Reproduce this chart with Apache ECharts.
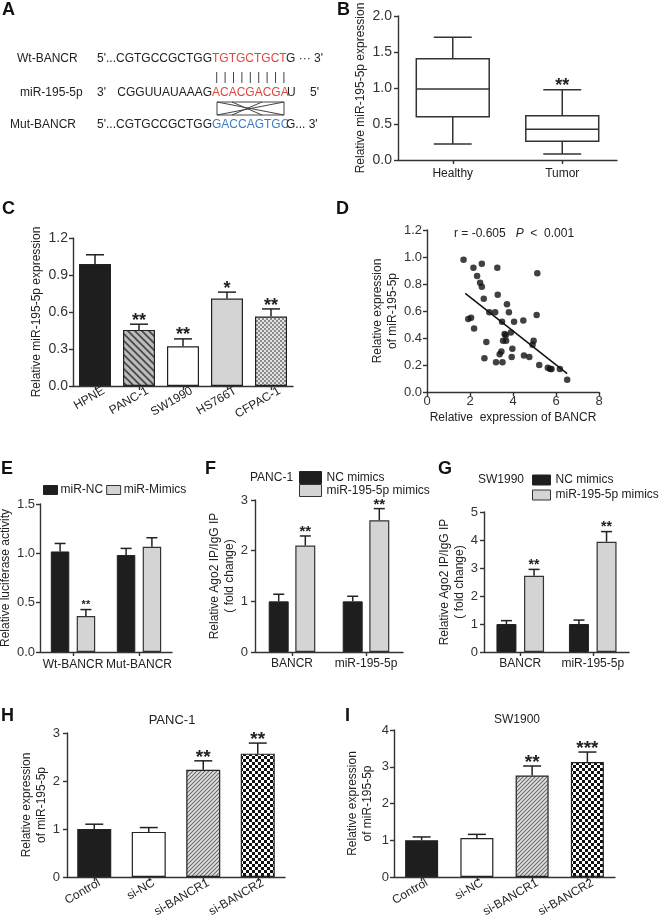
<!DOCTYPE html>
<html><head><meta charset="utf-8">
<script src="https://cdn.jsdelivr.net/npm/echarts@6.0.0/dist/echarts.min.js"></script>
<style>html,body{margin:0;padding:0;background:#fff}#c{width:662px;height:918px}</style>
</head><body><div id="c"></div>
<script>
// ---------- DATA ----------
// Panel B (boxplot: min, Q1, median, Q3, max)
const bCats = ['Healthy', 'Tumor'];
const bBox = [[0.222, 0.602, 0.986, 1.407, 1.704], [0.083, 0.259, 0.426, 0.616, 0.977]];
const bStars = ['', '**'];
// Panel C
const cCats = ['HPNE', 'PANC-1', 'SW1990', 'HS766T', 'CFPAC-1'];
const cMean = [0.99, 0.455, 0.322, 0.709, 0.563];
const cErr = [1.064, 0.501, 0.382, 0.761, 0.625];
const cStars = ['', '**', '**', '*', '**'];
// Panel D
const dX = [1.70,2.16,2.55,3.27,2.33,2.47,2.55,5.13,3.29,2.64,3.72,2.90,3.17,3.81,5.10,1.92,2.05,3.49,4.05,4.48,2.19,3.61,3.66,3.90,4.96,4.91,2.76,3.54,3.68,3.97,3.46,3.38,4.51,4.76,3.94,2.67,3.21,3.51,5.22,5.62,5.73,5.79,6.18,6.52];
const dY = [0.98,0.92,0.95,0.92,0.86,0.81,0.78,0.88,0.72,0.69,0.65,0.59,0.59,0.59,0.57,0.54,0.55,0.52,0.52,0.53,0.47,0.43,0.42,0.44,0.38,0.35,0.37,0.38,0.38,0.32,0.30,0.28,0.27,0.26,0.26,0.25,0.22,0.22,0.20,0.18,0.17,0.17,0.17,0.09];
const dFitX = [1.78, 6.52];
const dFitY = [0.73, 0.136];
// Panel E
const eCats = ['Wt-BANCR', 'Mut-BANCR'];
const eNC = [1.019, 0.983], eNCErr = [1.10, 1.05];
const eMim = [0.365, 1.067], eMimErr = [0.43, 1.158];
const eStars = ['**', ''];
// Panel F
const fgCats = ['BANCR', 'miR-195-5p'];
const fNC = [1.0, 1.0], fNCErr = [1.14, 1.10];
const fMim = [2.10, 2.60], fMimErr = [2.29, 2.83];
const fStars = ['**', '**'];
// Panel G
const gNC = [1.0, 1.0], gNCErr = [1.12, 1.14];
const gMim = [2.72, 3.94], gMimErr = [2.95, 4.30];
const gStars = ['**', '**'];
// Panel H
const hiCats = ['Control', 'si-NC', 'si-BANCR1', 'si-BANCR2'];
const hVal = [1.0, 0.94, 2.235, 2.57], hErr = [1.10, 1.03, 2.42, 2.79];
const hStars = ['', '', '**', '**'];
// Panel I
const iVal = [1.0, 1.06, 2.76, 3.13], iErr = [1.09, 1.16, 3.02, 3.40];
const iStars = ['', '', '**', '***'];

// ---------- STYLE ----------
const FONT = '"Liberation Sans", Arial, Helvetica, sans-serif';
const AX = '#333', TXT = '#222', BLACK = '#1e1e1e', LGRAY = '#d4d4d4';

function hatch(dir, bg, fg, s, lw) {
  const c = document.createElement('canvas'); c.width = s; c.height = s;
  const x = c.getContext('2d'); x.fillStyle = bg; x.fillRect(0, 0, s, s);
  x.strokeStyle = fg; x.lineWidth = lw; x.beginPath();
  if (dir === '/') {
    x.moveTo(0, s); x.lineTo(s, 0); x.moveTo(-s/2, s/2); x.lineTo(s/2, -s/2); x.moveTo(s/2, s*1.5); x.lineTo(s*1.5, s/2);
  } else {
    x.moveTo(0, 0); x.lineTo(s, s); x.moveTo(-s/2, s/2); x.lineTo(s/2, s*1.5); x.moveTo(s/2, -s/2); x.lineTo(s*1.5, s/2);
  }
  x.stroke(); return {image: c, repeat: 'repeat'};
}
function checker(a, b, q) {
  const c = document.createElement('canvas'); c.width = 2*q; c.height = 2*q;
  const x = c.getContext('2d'); x.fillStyle = b; x.fillRect(0, 0, 2*q, 2*q);
  x.fillStyle = a; x.fillRect(0, 0, q, q); x.fillRect(q, q, q, q);
  return {image: c, repeat: 'repeat'};
}
const cFill = [BLACK, hatch('\\', '#bdbdbd', '#4a4a4a', 7, 1.8), '#ffffff', LGRAY, checker('#8a8a8a', '#e4e4e4', 2)];
const hiFill = [BLACK, '#ffffff', hatch('/', '#e2e2e2', '#6a6a6a', 4, 1.1), checker('#111', '#fff', 3)];

function valAxis(gi, min, max, itv, dec, name, gap, margin, fs) {
  return {type: 'value', gridIndex: gi, min, max, interval: itv,
    axisLine: {show: true, lineStyle: {color: AX, width: 1.4}},
    axisTick: {show: true, length: 4, lineStyle: {color: AX, width: 1.4}},
    splitLine: {show: false},
    axisLabel: {show: true, color: '#333', fontSize: fs || 13, fontFamily: FONT, margin: margin || 6, formatter: v => v.toFixed(dec)},
    name, nameLocation: 'middle', nameRotate: 90, nameGap: gap,
    nameTextStyle: {color: TXT, fontSize: 12, fontFamily: FONT, lineHeight: 15}};
}
function catAxis(gi, data, rotate, margin, pad) {
  return {type: 'category', gridIndex: gi, data,
    axisLine: {show: true, lineStyle: {color: AX, width: 1.4}},
    axisTick: {show: true, alignWithLabel: true, length: 4, lineStyle: {color: AX, width: 1.4}},
    axisLabel: {show: true, interval: 0, rotate: rotate || 0, color: TXT, fontSize: 12, fontFamily: FONT, margin: margin || 6, padding: pad || 0},
    splitLine: {show: false}};
}
function errBars(ai, means, errs, offset, capW, stars, fs) {
  return {type: 'custom', xAxisIndex: ai, yAxisIndex: ai, z: 5, silent: true,
    data: means.map((m, i) => [i, m, errs[i]]),
    renderItem: (params, api) => {
      const i = api.value(0);
      const p = api.coord([i, api.value(1)]), q = api.coord([i, api.value(2)]);
      const x = p[0] + offset;
      const ch = [
        {type: 'line', shape: {x1: x, y1: p[1], x2: x, y2: q[1]}, style: {stroke: '#222', lineWidth: 1.5}},
        {type: 'line', shape: {x1: x - capW/2, y1: q[1], x2: x + capW/2, y2: q[1]}, style: {stroke: '#222', lineWidth: 1.5}}
      ];
      const s = stars ? stars[params.dataIndex] : '';
      if (s) ch.push({type: 'text', x: x, y: q[1] - 7.5 + 0.23*fs,
        style: {text: s, fill: '#222', fontSize: fs, fontWeight: 'bold', fontFamily: FONT, align: 'center', verticalAlign: 'middle'}});
      return {type: 'group', children: ch};
    }};
}
const barBorder = {borderColor: '#222', borderWidth: 1.2};

function T(text, x, y, o) {
  return Object.assign({type: 'text', x, y, silent: true,
    style: Object.assign({text, fill: TXT, fontSize: 12, fontFamily: FONT, align: 'left', verticalAlign: 'middle'}, (o || {}))});
}
function L(x1, y1, x2, y2) { return {type: 'line', silent: true, shape: {x1, y1, x2, y2}, style: {stroke: '#444', lineWidth: 1}}; }
const RED = '#e2463c', BLUE = '#3b7ec6';
const letter = (t, x, y) => T(t, x, y, {fontSize: 18, fontWeight: 'bold', fill: '#111'});

const graphic = [
  letter('A', 2, 10), letter('B', 337, 10), letter('C', 2, 209), letter('D', 336, 209),
  letter('E', 1, 469), letter('F', 205, 469), letter('G', 438, 469), letter('H', 1, 716), letter('I', 345, 716),
  // Panel A
  T('Wt-BANCR', 17, 59), T("5'...CGTGCCGCTGG", 212, 59, {align: 'right'}), T('TGTGCTGCT', 212, 59, {fill: RED}), T("G \u00b7\u00b7\u00b7 3'", 286, 59),
  T('miR-195-5p', 20, 93), T("3'", 97, 93), T('CGGUUAUAAAG', 212, 93, {align: 'right'}), T('ACACGACGA', 212, 93, {fill: RED}), T('U', 287, 93), T("5'", 310, 93),
  T('Mut-BANCR', 10, 125), T("5'...CGTGCCGCTGG", 212, 125, {align: 'right'}), T('GACCAGTGC', 212, 125, {fill: BLUE}), T("G... 3'", 286, 125),
  // Panel D annotation
  T('r = -0.605   {i|P}  <  0.001', 454, 234, {rich: {i: {fontStyle: 'italic', fontSize: 12, fontFamily: FONT, fill: TXT}}}),
  // Titles
  T('PANC-1', 250, 478), T('SW1990', 478, 480), T('PANC-1', 172, 720, {align: 'center', fontSize: 13}), T('SW1900', 517, 720, {align: 'center'})
];
for (let k = 0; k < 9; k++) { const x = 216.7 + k * 8.4; graphic.push(L(x, 72, x, 83)); }
graphic.push(L(217, 102, 284, 102), L(217, 115, 284, 115), L(217, 102, 217, 115), L(284, 102, 284, 115),
  L(217, 102, 284, 115), L(217, 115, 284, 102), L(232, 102, 262, 115), L(232, 115, 262, 102));

const option = {
  animation: false,
  backgroundColor: '#fff',
  textStyle: {fontFamily: FONT},
  graphic,
  grid: [
    {left: 398, top: 16, width: 219, height: 144},
    {left: 73, top: 238, width: 220, height: 148},
    {left: 427, top: 230, width: 172, height: 162},
    {left: 40, top: 504, width: 132, height: 148},
    {left: 255, top: 500, width: 148, height: 152},
    {left: 484, top: 512, width: 145, height: 140},
    {left: 67, top: 733, width: 218, height: 144},
    {left: 394, top: 730, width: 221, height: 147}
  ].map(g => Object.assign(g, {containLabel: false, outerBoundsMode: 'none'})),
  legend: [
    {left: 43, top: 484, orient: 'horizontal', padding: 0, itemWidth: 14, itemHeight: 9, itemGap: 3, icon: 'rect',
      textStyle: {fontSize: 12, fontFamily: FONT, color: TXT, padding: [0, 0, 0, -2]},
      data: [{name: 'miR-NC', itemStyle: {color: BLACK, borderColor: '#222', borderWidth: 1}},
             {name: 'miR-Mimics', itemStyle: {color: LGRAY, borderColor: '#333', borderWidth: 1}}]},
    {left: 299, top: 471, orient: 'vertical', padding: 0, itemWidth: 22, itemHeight: 12, itemGap: 0, icon: 'rect',
      textStyle: {fontSize: 12, fontFamily: FONT, color: TXT, lineHeight: 13},
      data: [{name: 'NC mimics', itemStyle: {color: BLACK, borderColor: '#222', borderWidth: 1}},
             {name: 'miR-195-5p mimics', itemStyle: {color: LGRAY, borderColor: '#333', borderWidth: 1}}]},
    {left: 532, top: 473, orient: 'vertical', padding: 0, itemWidth: 18, itemHeight: 10, itemGap: 1, icon: 'rect',
      textStyle: {fontSize: 12, fontFamily: FONT, color: TXT, lineHeight: 14},
      data: [{name: 'NC mimics', itemStyle: {color: BLACK, borderColor: '#222', borderWidth: 1}},
             {name: 'miR-195-5p mimics', itemStyle: {color: LGRAY, borderColor: '#333', borderWidth: 1}}]}
  ],
  xAxis: [
    catAxis(0, bCats, 0, 8),
    catAxis(1, cCats, 30, 9, [0, -10, 0, 0]),
    {type: 'value', gridIndex: 2, min: 0, max: 8, interval: 2,
      axisLine: {show: true, lineStyle: {color: AX, width: 1.4}},
      axisTick: {show: true, length: 4, lineStyle: {color: AX, width: 1.4}},
      splitLine: {show: false},
      axisLabel: {show: true, color: '#333', fontSize: 13, fontFamily: FONT, margin: 3},
      name: 'Relative  expression of BANCR', nameLocation: 'middle', nameGap: 20,
      nameTextStyle: {color: TXT, fontSize: 12, fontFamily: FONT}},
    catAxis(3, eCats, 0, 7),
    catAxis(4, fgCats, 0, 6),
    catAxis(5, fgCats, 0, 6),
    catAxis(6, hiCats, 30, 8, [0, -6, 0, 0]),
    catAxis(7, hiCats, 30, 8, [0, -6, 0, 0])
  ],
  yAxis: [
    valAxis(0, 0, 2, 0.5, 1, 'Relative miR-195-5p expression', 21, 6, 14),
    valAxis(1, 0, 1.2, 0.3, 1, 'Relative miR-195-5p expression', 25, 5, 14),
    valAxis(2, 0, 1.2, 0.2, 1, 'Relative expression\nof miR-195-5p', 27, 5, 13),
    valAxis(3, 0, 1.5, 0.5, 1, 'Relative luciferase activity', 25, 5, 13),
    valAxis(4, 0, 3, 1, 0, 'Relative Ago2 IP/IgG IP\n( fold change)', 16, 7, 13),
    valAxis(5, 0, 5, 1, 0, 'Relative Ago2 IP/IgG IP\n( fold change)', 17, 6, 13),
    valAxis(6, 0, 3, 1, 0, 'Relative expression\nof miR-195-5p', 15, 7, 13),
    valAxis(7, 0, 4, 1, 0, 'Relative expression\nof miR-195-5p', 19, 5, 13)
  ],
  series: [
    // B boxplot
    {type: 'custom', xAxisIndex: 0, yAxisIndex: 0, silent: true,
      data: bBox.map((b, i) => [i].concat(b)),
      encode: {x: 0, y: [1, 2, 3, 4, 5]},
      renderItem: (params, api) => {
        const i = api.value(0);
        const y = k => api.coord([i, api.value(k)])[1];
        const x = api.coord([i, 0])[0];
        const hw = api.size([1, 0])[0] * 0.333, cw = hw * 0.52;
        const st = {stroke: '#333', lineWidth: 1.5, fill: null};
        const ch = [
          {type: 'line', shape: {x1: x, y1: y(5), x2: x, y2: y(4)}, style: st},
          {type: 'line', shape: {x1: x, y1: y(2), x2: x, y2: y(1)}, style: st},
          {type: 'line', shape: {x1: x - cw, y1: y(5), x2: x + cw, y2: y(5)}, style: st},
          {type: 'line', shape: {x1: x - cw, y1: y(1), x2: x + cw, y2: y(1)}, style: st},
          {type: 'rect', shape: {x: x - hw, y: y(4), width: 2*hw, height: y(2) - y(4)}, style: {stroke: '#333', lineWidth: 1.5, fill: '#fff'}},
          {type: 'line', shape: {x1: x - hw, y1: y(3), x2: x + hw, y2: y(3)}, style: st}
        ];
        const s = bStars[params.dataIndex];
        if (s) ch.push({type: 'text', x: x, y: y(5) - 7.5 + 0.23*18,
          style: {text: s, fill: '#222', fontSize: 18, fontWeight: 'bold', fontFamily: FONT, align: 'center', verticalAlign: 'middle'}});
        return {type: 'group', children: ch};
      }},
    // C
    {type: 'bar', xAxisIndex: 1, yAxisIndex: 1, barWidth: 32, itemStyle: barBorder,
      data: cMean.map((v, i) => ({value: v, itemStyle: {color: cFill[i]}}))},
    errBars(1, cMean, cErr, 0, 18, cStars, 18),
    // D
    {type: 'scatter', xAxisIndex: 2, yAxisIndex: 2, symbolSize: 6.5, itemStyle: {color: '#111'},
      data: dX.map((x, i) => [x, dY[i]])},
    {type: 'line', xAxisIndex: 2, yAxisIndex: 2, symbol: 'none', lineStyle: {color: '#111', width: 1.5},
      data: dFitX.map((x, i) => [x, dFitY[i]])},
    // E
    {name: 'miR-NC', type: 'bar', xAxisIndex: 3, yAxisIndex: 3, barWidth: 18.5, barGap: '40%',
      itemStyle: {color: BLACK, borderColor: '#222', borderWidth: 1}, data: eNC},
    {name: 'miR-Mimics', type: 'bar', xAxisIndex: 3, yAxisIndex: 3, barWidth: 18.5, barGap: '40%',
      itemStyle: {color: LGRAY, borderColor: '#333', borderWidth: 1.2}, data: eMim},
    errBars(3, eNC, eNCErr, -12.9, 11, null, 11),
    errBars(3, eMim, eMimErr, 12.9, 11, eStars, 11),
    // F
    {name: 'NC mimics', type: 'bar', xAxisIndex: 4, yAxisIndex: 4, barWidth: 20, barGap: '33%',
      itemStyle: {color: BLACK, borderColor: '#222', borderWidth: 1}, data: fNC},
    {name: 'miR-195-5p mimics', type: 'bar', xAxisIndex: 4, yAxisIndex: 4, barWidth: 20, barGap: '33%',
      itemStyle: {color: LGRAY, borderColor: '#333', borderWidth: 1.2}, data: fMim},
    errBars(4, fNC, fNCErr, -13.3, 11, null, 15),
    errBars(4, fMim, fMimErr, 13.3, 11, fStars, 15),
    // G
    {name: 'NC mimics', type: 'bar', xAxisIndex: 5, yAxisIndex: 5, barWidth: 20, barGap: '38%',
      itemStyle: {color: BLACK, borderColor: '#222', borderWidth: 1}, data: gNC},
    {name: 'miR-195-5p mimics', type: 'bar', xAxisIndex: 5, yAxisIndex: 5, barWidth: 20, barGap: '38%',
      itemStyle: {color: LGRAY, borderColor: '#333', borderWidth: 1.2}, data: gMim},
    errBars(5, gNC, gNCErr, -13.8, 11, null, 14),
    errBars(5, gMim, gMimErr, 13.8, 11, gStars, 14),
    // H
    {type: 'bar', xAxisIndex: 6, yAxisIndex: 6, barWidth: 34, itemStyle: barBorder,
      data: hVal.map((v, i) => ({value: v, itemStyle: {color: hiFill[i]}}))},
    errBars(6, hVal, hErr, 0, 18, hStars, 19),
    // I
    {type: 'bar', xAxisIndex: 7, yAxisIndex: 7, barWidth: 33, itemStyle: barBorder,
      data: iVal.map((v, i) => ({value: v, itemStyle: {color: hiFill[i]}}))},
    errBars(7, iVal, iErr, 0, 18, iStars, 19)
  ]
};
const chart = echarts.init(document.getElementById('c'), null, {renderer: 'canvas', width: 662, height: 918});
chart.setOption(option);
</script>
</body></html>
